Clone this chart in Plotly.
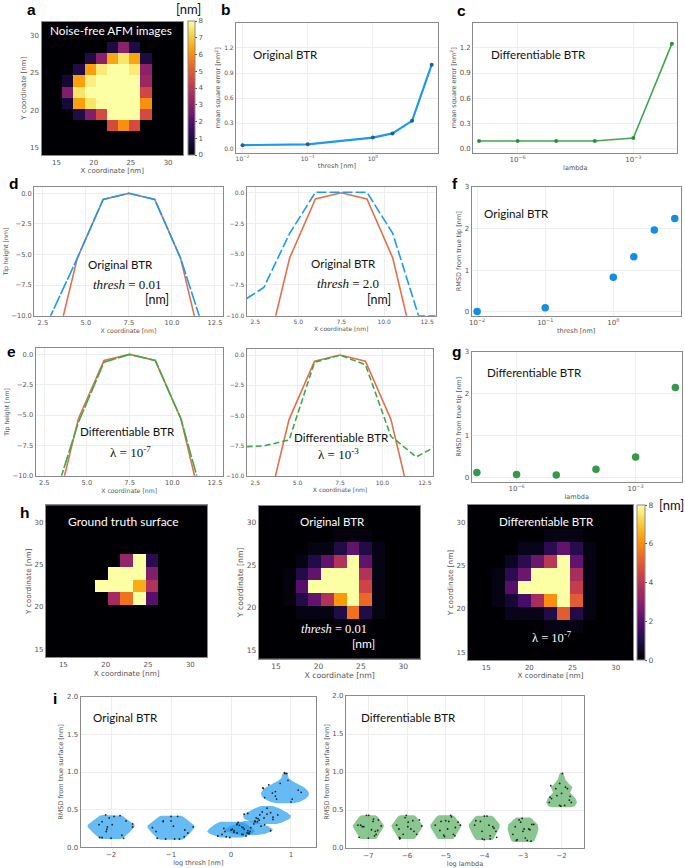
import numpy as np
import plotly.graph_objects as go

W, H = 685, 868
BLUE = "#1A9BF0"
ORANGE = "#E3704B"
GREEN = "#3FA84C"
TICK = "#555555"
BORDER = "#8A8A8A"
GRID = "#EEEEEE"
LABEL_FONT = "Lato"

# ---- panel a: noise-free AFM image, rows listed top to bottom
afm_z = [
    [0, 0, 0, 0, 0.9, 3.0, 0.9, 0],
    [0, 0, 1.0, 3.0, 6.4, 7.5, 6.4, 0.9],
    [0, 1.0, 6.3, 7.6, 8, 8, 7.6, 3.0],
    [0.7, 6.3, 7.7, 8, 8, 8, 8, 3.3],
    [2.8, 7.5, 8, 8, 8, 8, 8, 4.5],
    [0.8, 6.3, 7.5, 8, 8, 8, 8, 6.0],
    [0, 1.0, 2.8, 4.6, 8, 8, 8, 4.6],
    [0, 0, 0, 0, 4.6, 6.0, 4.6, 0],
]
# ---- panel h: surfaces, rows listed top to bottom
truth_z = [
    [0, 0, 3.2, 8, 1.2],
    [0, 8, 8, 8, 2.8],
    [8, 8, 8, 6.5, 3.8],
    [0, 3.5, 5.5, 8, 2.0],
]
orig_z = [
    [0, 0, 0, 0, 0.15, 0.15, 0.15, 0],
    [0, 0, 0.2, 0.2, 1.0, 2.2, 1.0, 0.2],
    [0, 0.2, 1.0, 2.2, 3.8, 8, 2.2, 0.2],
    [0.15, 1.0, 2.2, 8, 8, 8, 3.8, 0.2],
    [0.15, 2.0, 8, 8, 8, 8, 4.4, 0.2],
    [0.15, 1.0, 2.2, 3.8, 6.2, 8, 5.3, 0.2],
    [0, 0.2, 0.2, 0.2, 1.0, 5.5, 1.0, 0.2],
    [0, 0, 0, 0, 0.15, 0.15, 0.15, 0],
]
diff_z = [
    [0, 0, 0, 0, 0.2, 0.2, 0.2, 0],
    [0, 0, 0.3, 0.3, 1.2, 2.2, 1.1, 0.2],
    [0, 0.4, 1.2, 2.4, 4.0, 8, 2.2, 0.2],
    [0.2, 1.2, 2.4, 8, 8, 8, 3.6, 0.2],
    [0.2, 2.0, 8, 8, 8, 8, 4.2, 0.2],
    [0.2, 0.7, 1.7, 3.6, 6.0, 8, 5.0, 0.2],
    [0, 0.3, 0.3, 0.3, 1.0, 5.0, 1.0, 0.2],
    [0, 0, 0, 0, 0.2, 0.2, 0.2, 0],
]
# ---- panels b, c, f, g
thresh_vals = [0.01, 0.1, 1, 2, 4, 8]
lambda_vals = [1e-7, 1e-6, 1e-5, 1e-4, 1e-3, 1e-2]
mse_orig = [0.04, 0.05, 0.13, 0.18, 0.33, 1.0]
mse_diff = [0.09, 0.09, 0.09, 0.09, 0.125, 1.25]
rmsd_tip_orig = [0.01, 0.10, 0.83, 1.32, 1.96, 2.24]
rmsd_tip_diff = [0.12, 0.07, 0.06, 0.20, 0.49, 2.15]
# ---- panels d, e
tip_x = [2, 3, 4.5, 6, 7.5, 9, 10.5, 12, 13]
tip_true = [-20, -14, -5.3, -0.5, 0, -0.5, -5.3, -13.8, -20]
tip_thresh_001 = [-13, -9.85, -5.3, -0.5, 0, -0.5, -5.3, -11.8, -12]
tip_thresh_2 = [-8.6, -7.7, -3.3, 0.05, 0.05, 0.05, -3.3, -10, -10]
tip_lam_7 = [-14, -12.3, -5.6, -0.65, 0, -0.5, -5.3, -12.9, -14]
tip_lam_3 = [-7.55, -7.5, -7.0, -0.6, 0, -0.8, -6.7, -8.4, -7.65]
# ---- panel i: violin outlines (RMSD level, half width) and sample points
v_o1_lev = [0.11, 0.125, 0.20, 0.27, 0.30, 0.37, 0.42, 0.43]
v_o1_hw = [0.16, 0.20, 0.31, 0.39, 0.39, 0.27, 0.19, 0.14]
v_o2_lev = [0.10, 0.115, 0.19, 0.26, 0.29, 0.35, 0.41, 0.42]
v_o2_hw = [0.18, 0.22, 0.32, 0.39, 0.39, 0.29, 0.20, 0.16]
v_o3_lev = [0.13, 0.14, 0.18, 0.21, 0.25, 0.31, 0.34]
v_o3_hw = [0.18, 0.22, 0.36, 0.40, 0.36, 0.26, 0.18]
v_o4_lev = [0.165, 0.175, 0.21, 0.24, 0.28, 0.33, 0.35]
v_o4_hw = [0.14, 0.26, 0.37, 0.40, 0.32, 0.16, 0.08]
v_o5_lev = [0.31, 0.325, 0.38, 0.42, 0.46, 0.52, 0.55]
v_o5_hw = [0.16, 0.24, 0.38, 0.40, 0.34, 0.20, 0.10]
v_o6_lev = [0.585, 0.60, 0.64, 0.68, 0.72, 0.76, 0.80, 0.84, 0.88, 0.92, 0.96, 0.985]
v_o6_hw = [0.14, 0.24, 0.34, 0.39, 0.40, 0.37, 0.31, 0.22, 0.12, 0.06, 0.05, 0.03]
p_o1_x = [-2.2, -2.09, -2.03, -1.98, -2.06, -2.07, -2.08, -2.19, -2.15, -2.0, -1.82, -1.79, -1.85, -1.75, -1.64, -1.64, -2.15, -1.95]
p_o1_y = [0.30, 0.43, 0.39, 0.30, 0.27, 0.24, 0.21, 0.13, 0.13, 0.12, 0.16, 0.12, 0.42, 0.35, 0.31, 0.27, 0.34, 0.41]
p_o2_x = [-1.31, -1.25, -1.13, -1, -0.96, -0.94, -1.09, -1.23, -0.86, -0.78, -0.77, -0.72, -0.63, -0.89, -1.0, -1.13]
p_o2_y = [0.26, 0.21, 0.34, 0.35, 0.28, 0.11, 0.11, 0.12, 0.11, 0.14, 0.23, 0.19, 0.27, 0.41, 0.41, 0.35]
p_o3_x = [-0.22, -0.15, -0.1, -0.02, 0.05, 0.12, 0.18, 0.25, 0.3, -0.08, 0.0, 0.1, 0.2, 0.33, -0.12, 0.28]
p_o3_y = [0.15, 0.17, 0.21, 0.13, 0.2, 0.33, 0.27, 0.15, 0.19, 0.14, 0.23, 0.3, 0.17, 0.26, 0.25, 0.22]
p_o4_x = [0.02, 0.05, 0.1, 0.14, 0.18, 0.22, 0.27, 0.32, 0.38, 0.44, 0.5, 0.56, 0.66, 0.1, 0.2, 0.3, 0.4]
p_o4_y = [0.24, 0.22, 0.19, 0.29, 0.17, 0.24, 0.19, 0.21, 0.31, 0.34, 0.28, 0.3, 0.22, 0.31, 0.26, 0.18, 0.34]
p_o5_x = [0.22, 0.28, 0.42, 0.45, 0.47, 0.48, 0.52, 0.6, 0.66, 0.7, 0.78, 0.6, 0.55, 0.7, 0.4]
p_o5_y = [0.44, 0.45, 0.39, 0.38, 0.36, 0.43, 0.47, 0.44, 0.46, 0.37, 0.43, 0.52, 0.39, 0.4, 0.35]
p_o6_x = [0.53, 0.56, 0.63, 0.69, 0.74, 0.74, 0.76, 0.82, 0.95, 0.93, 1.02, 1.12, 1.17, 1.0, 0.89, 0.9, 0.54]
p_o6_y = [0.79, 0.66, 0.83, 0.72, 0.74, 0.68, 0.64, 0.85, 0.89, 0.98, 0.64, 0.76, 0.73, 0.6, 0.99, 0.98, 0.78]

v_d1_lev = [0.12, 0.135, 0.20, 0.27, 0.30, 0.36, 0.41, 0.43]
v_d1_hw = [0.20, 0.23, 0.31, 0.39, 0.40, 0.31, 0.24, 0.18]
v_d2_lev = [0.12, 0.135, 0.20, 0.27, 0.30, 0.36, 0.41, 0.43]
v_d2_hw = [0.20, 0.23, 0.31, 0.39, 0.40, 0.31, 0.24, 0.18]
v_d3_lev = [0.12, 0.135, 0.20, 0.27, 0.30, 0.36, 0.41, 0.43]
v_d3_hw = [0.20, 0.23, 0.31, 0.39, 0.40, 0.31, 0.24, 0.18]
v_d4_lev = [0.105, 0.12, 0.18, 0.27, 0.31, 0.37, 0.41, 0.425]
v_d4_hw = [0.20, 0.24, 0.31, 0.39, 0.40, 0.31, 0.24, 0.19]
v_d5_lev = [0.08, 0.095, 0.15, 0.20, 0.25, 0.31, 0.36, 0.39, 0.40]
v_d5_hw = [0.24, 0.30, 0.34, 0.38, 0.40, 0.38, 0.28, 0.22, 0.18]
v_d6_lev = [0.535, 0.55, 0.60, 0.65, 0.73, 0.80, 0.85, 0.90, 0.96, 0.99]
v_d6_hw = [0.26, 0.34, 0.40, 0.36, 0.22, 0.28, 0.18, 0.10, 0.06, 0.04]
p_d1_x = [-7.27, -7.16, -7.12, -7.05, -6.99, -6.92, -6.87, -6.74, -6.67, -6.76, -6.84, -7.24, -6.88, -6.82, -7.0, -7.2, -6.8]
p_d1_y = [0.30, 0.28, 0.28, 0.43, 0.43, 0.24, 0.38, 0.37, 0.29, 0.23, 0.16, 0.14, 0.35, 0.22, 0.13, 0.30, 0.18]
p_d2_x = [-6.27, -6.21, -6.18, -6.1, -6.02, -5.97, -5.9, -5.85, -5.75, -5.68, -5.62, -6.19, -6.2, -5.98, -5.82, -6.05]
p_d2_y = [0.30, 0.25, 0.13, 0.18, 0.43, 0.34, 0.25, 0.36, 0.18, 0.37, 0.29, 0.12, 0.14, 0.28, 0.22, 0.40]
p_d3_x = [-5.27, -5.15, -5.05, -5.0, -4.95, -4.87, -4.85, -4.75, -4.68, -4.62, -4.76, -5.12, -5.03, -4.92, -4.8]
p_d3_y = [0.30, 0.23, 0.17, 0.36, 0.25, 0.43, 0.41, 0.27, 0.34, 0.30, 0.16, 0.35, 0.15, 0.35, 0.18]
p_d4_x = [-4.25, -4.22, -4.1, -4.06, -4.0, -3.93, -3.88, -3.85, -3.75, -3.7, -3.68, -3.85, -4.05, -4.0, -3.78]
p_d4_y = [0.30, 0.36, 0.35, 0.22, 0.42, 0.42, 0.30, 0.12, 0.26, 0.22, 0.14, 0.16, 0.12, 0.11, 0.28]
p_d5_x = [-3.26, -3.2, -3.15, -3.1, -3.02, -2.97, -2.94, -2.89, -2.82, -2.79, -2.77, -2.72, -3.17, -2.85, -3.06, -3.0]
p_d5_y = [0.18, 0.28, 0.11, 0.37, 0.39, 0.25, 0.13, 0.10, 0.24, 0.09, 0.31, 0.31, 0.10, 0.25, 0.34, 0.22]
p_d6_x = [-2.32, -2.3, -2.28, -2.26, -2.15, -2.12, -2.05, -2.02, -1.98, -1.9, -1.85, -1.8, -1.78, -2.05, -2.0, -1.92, -1.75]
p_d6_y = [0.60, 0.67, 0.82, 0.65, 0.78, 0.69, 0.85, 0.55, 0.98, 0.80, 0.78, 0.63, 0.68, 0.56, 0.72, 0.56, 0.60]

CENTERS_ORIG = [-2, -1, 0, 0.3, 0.6, 0.9]
CENTERS_DIFF = [-7, -6, -5, -4, -3, -2]

TEXT_LABELS = {
    "orig": "Original BTR",
    "diff": "Differentiable BTR",
}

fig = go.Figure()
layout = {}
panel_no = [0]


def add_panel(left, right, top, bottom, xr, yr, xtitle, ytitle, xtickvals, xticktext,
              ytickvals, yticktext, size=7, tsize=7, grid=True, xlog=False, xstand=2, ystand=2):
    panel_no[0] += 1
    n = panel_no[0]
    tag = "" if n == 1 else str(n)
    common = dict(
        showline=True, mirror=True, linecolor=BORDER, linewidth=1.2,
        showgrid=grid, gridcolor=GRID, gridwidth=1, zeroline=False, ticks="",
        tickfont=dict(family="DejaVu Sans", size=size, color=TICK), automargin=False,
    )
    layout["xaxis" + tag] = dict(
        common, domain=[left / W, right / W], range=xr, anchor="y" + tag,
        type="log" if xlog else "linear", tickmode="array", tickvals=xtickvals, ticktext=xticktext,
        title=dict(text=xtitle, font=dict(family="DejaVu Sans", size=tsize, color=TICK), standoff=xstand),
    )
    ydict = dict(
        common, domain=[1 - bottom / H, 1 - top / H], range=yr, anchor="x" + tag,
        tickmode="array", tickvals=ytickvals, ticktext=yticktext,
    )
    if ytitle:
        ydict["title"] = dict(text=ytitle, font=dict(family="DejaVu Sans", size=tsize, color=TICK), standoff=ystand)
    layout["yaxis" + tag] = ydict
    return "x" + tag, "y" + tag


def heat(z, x_left, y_top, pad_l, pad_r, pad_t, pad_b, xa, ya, colorbar=None):
    """z is given top row first; zero rows and columns fill the rest of the frame."""
    arr = np.pad(np.array(z, dtype=float), ((pad_t, pad_b), (pad_l, pad_r)))
    arr = np.flipud(arr)
    x0 = x_left - pad_l * 1.5 + 0.75
    y0 = y_top - (len(z) + pad_b) * 1.5 + 0.75
    fig.add_trace(go.Heatmap(
        z=arr, x0=x0, dx=1.5, y0=y0, dy=1.5, zmin=0, zmax=8, colorscale="Inferno",
        xaxis=xa, yaxis=ya, showscale=colorbar is not None, colorbar=colorbar, hoverinfo="skip",
    ))


def line(x, y, xa, ya, color, width=2, dash=None, markers=None):
    fig.add_trace(go.Scatter(
        x=x, y=y, xaxis=xa, yaxis=ya, mode="lines+markers" if markers else "lines",
        line=dict(color=color, width=width, dash=dash),
        marker=dict(color=markers, size=4) if markers else None, showlegend=False,
    ))


def dots(x, y, xa, ya, color, size=7.5):
    fig.add_trace(go.Scatter(
        x=x, y=y, xaxis=xa, yaxis=ya, mode="markers",
        marker=dict(color=color, size=size), showlegend=False,
    ))


def violin(center, lev, hw, xa, ya, fill):
    lev, hw = np.array(lev), np.array(hw)
    xs = np.concatenate([center - hw, (center + hw)[::-1]])
    ys = np.concatenate([lev, lev[::-1]])
    fig.add_trace(go.Scatter(
        x=xs, y=ys, xaxis=xa, yaxis=ya, mode="lines", fill="toself", fillcolor=fill,
        line=dict(width=0), showlegend=False, hoverinfo="skip",
    ))


SCALE_X = [15, 20, 25, 30]
SCALE_Y = [15, 20, 25, 30]
S_TXT = ["15", "20", "25", "30"]
XC = "X coordinate [nm]"
YC = "Y coordinate [nm]"


def cbar(left, top, bottom, thick, ticks, size):
    return dict(
        x=left / W, xanchor="left", xpad=0, y=1 - bottom / H, yanchor="bottom", ypad=0,
        lenmode="fraction", len=(bottom - top) / H, thickness=thick, thicknessmode="pixels",
        tickmode="array", tickvals=ticks, ticktext=[str(t) for t in ticks],
        tickfont=dict(family="DejaVu Sans", size=size, color=TICK), ticks="outside", ticklen=2,
        tickcolor=TICK, outlinecolor=BORDER, outlinewidth=1,
    )


# a
xa, ya = add_panel(41.5, 183, 21.5, 155, [13, 32], [14, 31.9], XC, YC, SCALE_X, S_TXT, SCALE_Y, S_TXT, grid=False, size=7, tsize=7)
heat(afm_z, 15.8, 29.15, 2, 3, 2, 3, xa, ya, cbar(187.7, 21.5, 155, 6.6, [0, 1, 2, 3, 4, 5, 6, 7, 8], 7))

# b
LOG_T = ["10<sup>−2</sup>", "10<sup>−1</sup>", "10<sup>0</sup>"]
MSE_TICKS = [0, 0.3, 0.6, 0.9, 1.2]
MSE_TXT = ["0.0", "0.3", "0.6", "0.9", "1.2"]
xa, ya = add_panel(236, 438, 22.7, 152.7, [-2.10, 1.0], [-0.05, 1.5], "thresh [nm]", "mean square error [nm<sup>2</sup>]",
                   [0.01, 0.1, 1], LOG_T, MSE_TICKS, MSE_TXT, xlog=True, size=6, tsize=6.5)
line(thresh_vals, mse_orig, xa, ya, BLUE, width=2.2, markers="#20608F")

# c
LOG_L = ["10<sup>−6</sup>", "10<sup>−3</sup>"]
xa, ya = add_panel(473.3, 677.3, 22.7, 152.7, [-7.15, -1.86], [-0.05, 1.5], "lambda", "mean square error [nm<sup>2</sup>]",
                   [1e-6, 1e-3], LOG_L, MSE_TICKS, MSE_TXT, xlog=True, size=7, tsize=6.5)
line(lambda_vals, mse_diff, xa, ya, GREEN, width=1.6, markers="#2F8F3F")

# d, e
TIP_XT = [2.5, 5, 7.5, 10, 12.5]
TIP_XS = ["2.5", "5.0", "7.5", "10.0", "12.5"]
TIP_YT = [0, -2.5, -5, -7.5, -10]
TIP_YS = ["0.0", "−2.5", "−5.0", "−7.5", "−10.0"]
DASH_LONG = "14px,2px"
DASH_MID = "10px,3px"
DASH_SHORT = "6px,3px"

xa, ya = add_panel(34.3, 222.7, 187.3, 315.7, [2, 12.95], [-10, 0.49], XC, "Tip height [nm]", TIP_XT, TIP_XS, TIP_YT, TIP_YS, size=6.7, tsize=6.2)
line(tip_x, tip_true, xa, ya, ORANGE, 1.6)
line(tip_x, tip_thresh_001, xa, ya, BLUE, 1.6, DASH_LONG)

xa, ya = add_panel(246.7, 435.7, 186.7, 315.7, [2, 13], [-10, 0.5], XC, None, TIP_XT, TIP_XS, TIP_YT, TIP_YS, size=6, tsize=6)
line(tip_x, tip_true, xa, ya, ORANGE, 1.6)
line(tip_x, tip_thresh_2, xa, ya, BLUE, 1.6, DASH_MID)

xa, ya = add_panel(35.7, 222.7, 348.3, 475.7, [2, 12.95], [-10, 0.5], XC, "Tip height [nm]", TIP_XT, TIP_XS, TIP_YT, TIP_YS, size=6.7, tsize=6.2)
line(tip_x, tip_true, xa, ya, ORANGE, 1.6)
line(tip_x, tip_lam_7, xa, ya, GREEN, 1.6, DASH_LONG)

xa, ya = add_panel(246.7, 433.3, 349, 476.3, [2, 13], [-10, 0.5], XC, None, TIP_XT, TIP_XS, TIP_YT, TIP_YS, size=6, tsize=6)
line(tip_x, tip_true, xa, ya, ORANGE, 1.6)
line(tip_x, tip_lam_3, xa, ya, GREEN, 1.6, DASH_SHORT)

# f, g
RM_T = [0, 1, 2, 3]
RM_S = ["0", "1", "2", "3"]
xa, ya = add_panel(471.7, 680.7, 186.7, 315.7, [-2.08, 0.99], [-0.09, 3], "thresh [nm]", "RMSD from true tip [nm]",
                   [0.01, 0.1, 1], LOG_T, RM_T, RM_S, xlog=True, size=7, tsize=6.5)
dots(thresh_vals, rmsd_tip_orig, xa, ya, "#0F8FE8")
xa, ya = add_panel(471.7, 681.7, 352, 481.7, [-7.13, -1.84], [-0.1, 3], "lambda", "RMSD from true tip [nm]",
                   [1e-6, 1e-3], LOG_L, RM_T, RM_S, xlog=True, size=7, tsize=6.5)
dots(lambda_vals, rmsd_tip_diff, xa, ya, "#339A4A")

# h
xa, ya = add_panel(46, 207.3, 505.3, 657.3, [12.95, 32], [14.05, 32], XC, YC, SCALE_X, S_TXT, SCALE_Y, S_TXT, grid=False, size=7, tsize=7.3)
heat(truth_z, 18.74, 26.2, 4, 4, 4, 5, xa, ya)
xa, ya = add_panel(259, 420.3, 506, 658.7, [13, 32], [14, 31.95], XC, YC, SCALE_X, S_TXT, SCALE_Y, S_TXT, grid=False, size=7.5, tsize=7.8)
heat(orig_z, 15.8, 29.2, 2, 3, 2, 3, xa, ya)
xa, ya = add_panel(468, 633, 505, 660, [12.9, 32], [14.1, 32], XC, YC, SCALE_X, S_TXT, SCALE_Y, S_TXT, grid=False, size=7, tsize=7.3)
heat(diff_z, 15.73, 29.23, 2, 3, 2, 3, xa, ya, cbar(636.7, 505, 660, 8.3, [0, 2, 4, 6, 8], 7.5))

# i
V_YT = [0, 0.5, 1, 1.5, 2]
V_YS = ["0.0", "0.5", "1.0", "1.5", "2.0"]
O_PROF = [(v_o1_lev, v_o1_hw), (v_o2_lev, v_o2_hw), (v_o3_lev, v_o3_hw), (v_o4_lev, v_o4_hw), (v_o5_lev, v_o5_hw), (v_o6_lev, v_o6_hw)]
O_PTS = [(p_o1_x, p_o1_y), (p_o2_x, p_o2_y), (p_o3_x, p_o3_y), (p_o4_x, p_o4_y), (p_o5_x, p_o5_y), (p_o6_x, p_o6_y)]
D_PROF = [(v_d1_lev, v_d1_hw), (v_d2_lev, v_d2_hw), (v_d3_lev, v_d3_hw), (v_d4_lev, v_d4_hw), (v_d5_lev, v_d5_hw), (v_d6_lev, v_d6_hw)]
D_PTS = [(p_d1_x, p_d1_y), (p_d2_x, p_d2_y), (p_d3_x, p_d3_y), (p_d4_x, p_d4_y), (p_d5_x, p_d5_y), (p_d6_x, p_d6_y)]

xa, ya = add_panel(80.7, 316, 696.7, 847.3, [-2.506, 1.417], [0, 2], "log thresh [nm]", "RMSD from true surface [nm]",
                   [-2, -1, 0, 1], ["−2", "−1", "0", "1"], V_YT, V_YS, size=7, tsize=6.5)
for c, (lev, hw) in zip(CENTERS_ORIG, O_PROF):
    violin(c, lev, hw, xa, ya, "rgba(30,155,240,0.68)")
for (px, py) in O_PTS:
    dots(px, py, xa, ya, "#222222", size=1.8)

xa, ya = add_panel(346, 584, 696, 848, [-7.58, -1.42], [0, 2], "log lambda", "RMSD from true surface [nm]",
                   [-7, -6, -5, -4, -3, -2], ["−7", "−6", "−5", "−4", "−3", "−2"], V_YT, V_YS, size=7, tsize=6.5)
for c, (lev, hw) in zip(CENTERS_DIFF, D_PROF):
    violin(c, lev, hw, xa, ya, "rgba(60,160,70,0.6)")
for (px, py) in D_PTS:
    dots(px, py, xa, ya, "#222222", size=1.8)


# texts
anns = []


def note(text, x, y, size=11.6, color="#111111", family=LABEL_FONT, bold=False):
    anns.append(dict(
        text=f"<b>{text}</b>" if bold else text, x=x / W, y=1 - y / H, xref="paper", yref="paper",
        xanchor="center", yanchor="middle", showarrow=False,
        font=dict(size=size, color=color, family=family),
    ))


for letter, lx, ly in [("a", 31, 9.5), ("b", 226, 9), ("c", 461, 10), ("d", 13, 183), ("f", 455, 184),
                       ("e", 11, 351), ("g", 456, 351), ("h", 25, 512), ("i", 55, 698)]:
    note(letter, lx, ly, size=15.5, color="#000000", family="Liberation Sans", bold=True)

SERIF = "Liberation Serif"
note("[nm]", 188, 9, 13)
note("Noise-free AFM images", 111, 30, 11.8, "white")
note(TEXT_LABELS["orig"], 285, 54)
note(TEXT_LABELS["diff"], 538, 54)
note(TEXT_LABELS["orig"], 120, 264)
note("<i>thresh</i> = 0.01", 128, 284, 13, family=SERIF)
note("[nm]", 157, 300, 12.5)
note(TEXT_LABELS["orig"], 343, 263)
note("<i>thresh</i> = 2.0", 348, 283.5, 13, family=SERIF)
note("[nm]", 379, 300, 12.5)
note(TEXT_LABELS["diff"], 128, 431)
note("λ = 10<sup>-7</sup>", 130, 452, 13, family=SERIF)
note(TEXT_LABELS["diff"], 341, 437)
note("λ = 10<sup>-3</sup>", 338, 454, 13, family=SERIF)
note(TEXT_LABELS["orig"], 516, 213)
note(TEXT_LABELS["diff"], 534, 372)
note("Ground truth surface", 123, 521, 12, "white")
note(TEXT_LABELS["orig"], 332, 521, 11.6, "white")
note("<i>thresh</i> = 0.01", 334, 629, 12.5, "white", SERIF)
note("[nm]", 363, 643.5, 12, "white")
note(TEXT_LABELS["diff"], 546, 521, 11.6, "white")
note("λ = 10<sup>-7</sup>", 552, 637, 12.5, "white", SERIF)
note("[nm]", 671, 505, 13)
note(TEXT_LABELS["orig"], 125, 717)
note(TEXT_LABELS["diff"], 408, 717)

fig.update_layout(
    width=W, height=H, margin=dict(l=0, r=0, t=0, b=0), paper_bgcolor="white", plot_bgcolor="white",
    showlegend=False, annotations=anns, font=dict(family="DejaVu Sans"), **layout,
)
fig.write_html("out.html", post_script="document.body.style.margin='0';document.body.style.overflow='hidden';",
               config={"displayModeBar": False})
